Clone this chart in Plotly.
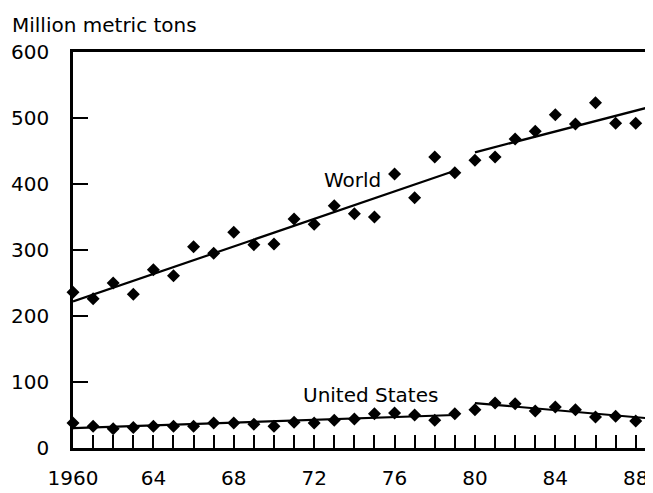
import plotly.graph_objects as go

years = list(range(1960, 1989))
world = [236, 226, 250, 233, 270, 261, 305, 295, 327, 308, 309, 347, 339, 367, 355,
         350, 415, 379, 441, 417, 436, 441, 468, 480, 505, 491, 523, 492, 492]
us = [38, 33, 29, 31, 33, 33, 33, 38, 38, 36, 33, 39, 38, 42, 44,
      52, 53, 50, 42, 52, 58, 68, 67, 56, 62, 58, 47, 48, 41]

world_trend1_x = [1960, 1979]
world_trend1_y = [222, 420]
world_trend2_x = [1980, 1989]
world_trend2_y = [448, 519]
us_trend1_x = [1960, 1979]
us_trend1_y = [30, 50]
us_trend2_x = [1980, 1989]
us_trend2_y = [68, 44]

tick_vals = [1960, 1964, 1968, 1972, 1976, 1980, 1984, 1988]
tick_text = ["1960", "64", "68", "72", "76", "80", "84", "88"]
y_ticks = [0, 100, 200, 300, 400, 500, 600]

# page body adds an 8px offset; compensate
OFF = 8
W, H = 653 - OFF, 493 - OFF
ML, MR, MT, MB = 73 - OFF, 0, 52 - OFF, 45
FONT = "DejaVu Sans"

fig = go.Figure()
for tx, ty in [(world_trend1_x, world_trend1_y), (world_trend2_x, world_trend2_y),
               (us_trend1_x, us_trend1_y), (us_trend2_x, us_trend2_y)]:
    fig.add_trace(go.Scatter(x=tx, y=ty, mode="lines",
                             line=dict(color="black", width=2.2),
                             showlegend=False, hoverinfo="skip"))
for series in (world, us):
    fig.add_trace(go.Scatter(x=years, y=series, mode="markers",
                             marker=dict(symbol="diamond", size=10, color="black"),
                             showlegend=False, cliponaxis=False))

fig.add_annotation(x=1973.9, y=406, text="World", showarrow=False,
                   font=dict(family=FONT, size=20, color="black"))
fig.add_annotation(x=1974.8, y=80, text="United States", showarrow=False,
                   font=dict(family=FONT, size=20, color="black"))
plot_w = W - ML - MR
plot_h = H - MT - MB
fig.add_annotation(xref="paper", yref="paper",
                   x=(10 - 73) / plot_w, y=(448 - 25) / plot_h,
                   xanchor="left", yanchor="middle",
                   text="Million metric tons", showarrow=False,
                   font=dict(family=FONT, size=20, color="black"))

fig.update_layout(
    width=W, height=H,
    margin=dict(l=ML, r=MR, t=MT, b=MB, pad=0),
    paper_bgcolor="white", plot_bgcolor="white",
    font=dict(family=FONT, size=20, color="black"),
    xaxis=dict(range=[1960, 1988.86], showgrid=False, zeroline=False,
               showline=True, linecolor="black", linewidth=2.5, mirror=True,
               ticks="inside", ticklen=13, tickwidth=1.5, tickcolor="black",
               tickvals=tick_vals, ticktext=tick_text,
               ticklabelstandoff=10,
               minor=dict(dtick=1, tick0=1960, ticks="inside", ticklen=13,
                          tickwidth=1.5, tickcolor="black", showgrid=False)),
    yaxis=dict(range=[0, 600], showgrid=False, zeroline=False,
               showline=True, linecolor="black", linewidth=2.5,
               ticks="inside", ticklen=15, tickwidth=1.5, tickcolor="black",
               tickvals=y_ticks, ticklabelstandoff=17),
)

fig.write_html("out.html")
